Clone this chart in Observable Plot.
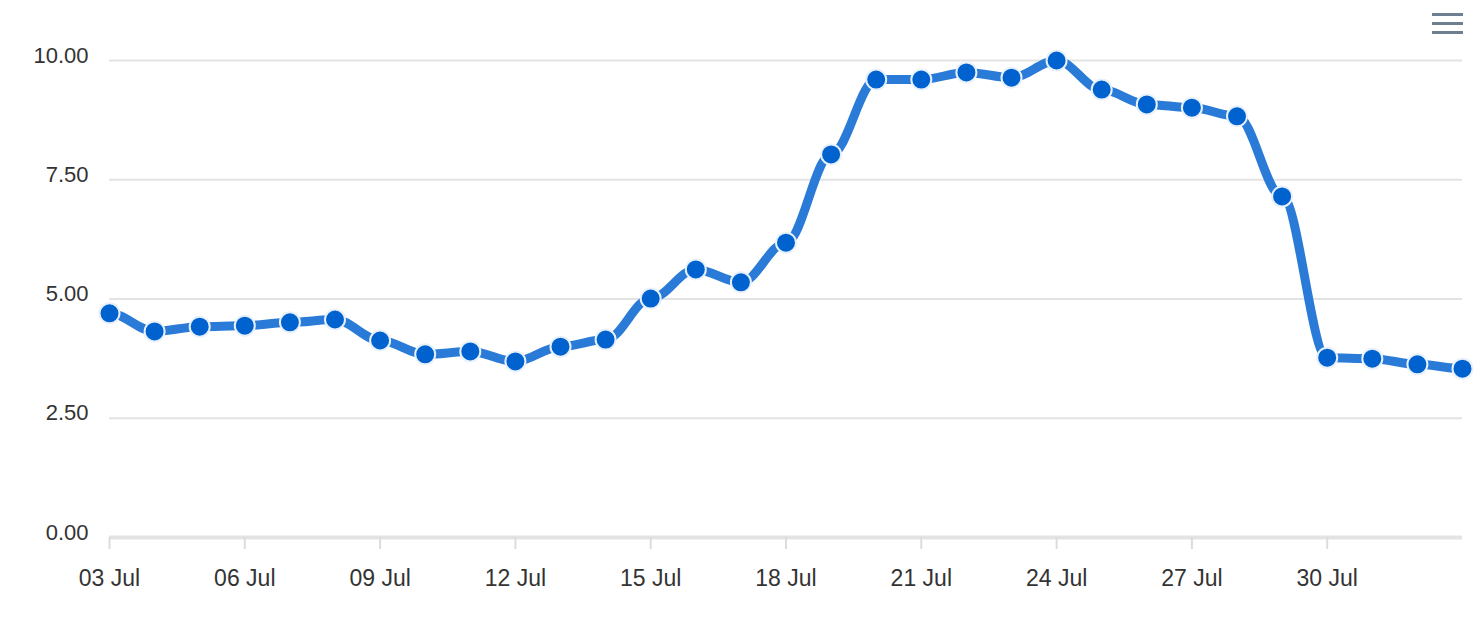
<!DOCTYPE html>
<html>
<head>
<meta charset="utf-8">
<script src="https://cdn.jsdelivr.net/npm/d3@7"></script>
<script src="https://cdn.jsdelivr.net/npm/@observablehq/plot@0.6"></script>
<style>
  html, body { margin: 0; padding: 0; background: #fff; }
  #wrap { position: relative; width: 1482px; height: 632px; font-family: "Liberation Sans", Arial, sans-serif; }
  #menu { position: absolute; left: 1432px; top: 12px; width: 31px; height: 24px; }
  #menu div { position: absolute; left: 0; width: 31px; height: 3px; background: #6e7f90; }
</style>
</head>
<body>
<div id="wrap">
  <div id="chart"></div>
  <div id="menu"><div style="top:1px"></div><div style="top:10px"></div><div style="top:19px"></div></div>
</div>
<script>
const dates = [
  "2023-07-03","2023-07-04","2023-07-05","2023-07-06","2023-07-07","2023-07-08","2023-07-09",
  "2023-07-10","2023-07-11","2023-07-12","2023-07-13","2023-07-14","2023-07-15","2023-07-16",
  "2023-07-17","2023-07-18","2023-07-19","2023-07-20","2023-07-21","2023-07-22","2023-07-23",
  "2023-07-24","2023-07-25","2023-07-26","2023-07-27","2023-07-28","2023-07-29","2023-07-30",
  "2023-07-31","2023-08-01","2023-08-02"
];
const values = [
  4.70, 4.32, 4.42, 4.44, 4.51, 4.57, 4.13,
  3.84, 3.90, 3.69, 4.00, 4.15, 5.01, 5.62,
  5.35, 6.18, 8.03, 9.60, 9.60, 9.75, 9.64,
  10.00, 9.39, 9.08, 9.01, 8.83, 7.15, 3.77,
  3.75, 3.63, 3.54
];
const yTicks = [0, 2.5, 5, 7.5, 10];
const xTickDates = ["2023-07-03","2023-07-06","2023-07-09","2023-07-12","2023-07-15","2023-07-18","2023-07-21","2023-07-24","2023-07-27","2023-07-30"];

const data = dates.map((d, i) => ({date: new Date(d + "T00:00:00Z"), value: values[i]}));
const xTicks = xTickDates.map(d => new Date(d + "T00:00:00Z"));
const fmtX = d3.utcFormat("%d %b");

// smooth curve with horizontal tangents at each point
function smoothCurve(context) {
  let x0, y0, n = 0;
  return {
    areaStart() {}, areaEnd() {},
    lineStart() { n = 0; },
    lineEnd() {},
    point(x, y) {
      x = +x; y = +y;
      if (n === 0) context.moveTo(x, y);
      else {
        const l = (x - x0) * 0.35;
        context.bezierCurveTo(x0 + l, y0, x - l, y, x, y);
      }
      x0 = x; y0 = y; n++;
    }
  };
}

const chart = Plot.plot({
  width: 1482,
  height: 632,
  marginLeft: 109,
  marginRight: 20,
  marginTop: 60,
  marginBottom: 95,
  style: {fontFamily: "'Liberation Sans', Arial, sans-serif", fontSize: "22px", color: "#333", background: "#fff"},
  x: {type: "utc", domain: [data[0].date, data[data.length - 1].date]},
  y: {domain: [0, 10]},
  marks: [
    Plot.gridY(yTicks, {stroke: "#e3e3e3", strokeOpacity: 1, strokeWidth: 2}),
    Plot.ruleY([0], {stroke: "#e3e3e3", strokeWidth: 4}),
    Plot.axisY(yTicks, {tickSize: 0, tickPadding: 21, tickFormat: d => d.toFixed(2), label: null, fill: "#333", dy: -5, fontSize: 22}),
    Plot.axisX(xTicks, {tickSize: 12, tickPadding: 20, tickFormat: fmtX, label: null, stroke: "#dcdcdc", strokeWidth: 2, fill: "#333", fontSize: 23}),
    Plot.line(data, {x: "date", y: "value", stroke: "#2a7bd8", strokeWidth: 9, curve: smoothCurve}),
    Plot.dot(data, {x: "date", y: "value", r: 10, fill: "#0062cf", stroke: "#e8f1fb", strokeWidth: 2})
  ]
});
document.getElementById("chart").appendChild(chart);
</script>
</body>
</html>
